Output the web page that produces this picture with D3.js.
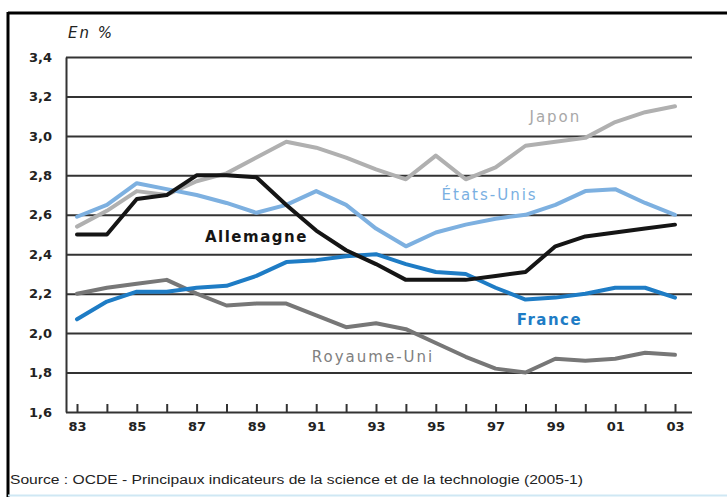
<!DOCTYPE html>
<html>
<head>
<meta charset="utf-8">
<script src="https://cdn.jsdelivr.net/npm/d3@7"></script>
<style>
  body { margin: 0; background: #fff; }
  svg { display: block; }
  .tick text { font-family: "DejaVu Sans", sans-serif; font-weight: bold; font-size: 13px; fill: #222; }
</style>
</head>
<body>
<div id="chart"></div>
<script>
var years = [1983, 1984, 1985, 1986, 1987, 1988, 1989, 1990, 1991, 1992, 1993,
             1994, 1995, 1996, 1997, 1998, 1999, 2000, 2001, 2002, 2003];
var yearLabels = ['83', '', '85', '', '87', '', '89', '', '91', '', '93',
                  '', '95', '', '97', '', '99', '', '01', '', '03'];
var yTicks = [1.6, 1.8, 2.0, 2.2, 2.4, 2.6, 2.8, 3.0, 3.2, 3.4];

var japon      = [2.54, 2.62, 2.72, 2.70, 2.77, 2.81, 2.89, 2.97, 2.94, 2.89, 2.83,
                  2.78, 2.90, 2.78, 2.84, 2.95, 2.97, 2.99, 3.07, 3.12, 3.15];
var etatsUnis  = [2.59, 2.65, 2.76, 2.73, 2.70, 2.66, 2.61, 2.65, 2.72, 2.65, 2.53,
                  2.44, 2.51, 2.55, 2.58, 2.60, 2.65, 2.72, 2.73, 2.66, 2.60];
var royaumeUni = [2.20, 2.23, 2.25, 2.27, 2.20, 2.14, 2.15, 2.15, 2.09, 2.03, 2.05,
                  2.02, 1.95, 1.88, 1.82, 1.80, 1.87, 1.86, 1.87, 1.90, 1.89];
var france     = [2.07, 2.16, 2.21, 2.21, 2.23, 2.24, 2.29, 2.36, 2.37, 2.39, 2.40,
                  2.35, 2.31, 2.30, 2.23, 2.17, 2.18, 2.20, 2.23, 2.23, 2.18];
var allemagne  = [2.50, 2.50, 2.68, 2.70, 2.80, 2.80, 2.79, 2.65, 2.52, 2.42, 2.35,
                  2.27, 2.27, 2.27, 2.29, 2.31, 2.44, 2.49, 2.51, 2.53, 2.55];

var series = [
  {name: 'Japon',       values: japon,      color: '#b0b0b0', lx: 1999.0, ly: 3.10, bold: false},
  {name: 'États-Unis',  values: etatsUnis,  color: '#7db0e0', lx: 1996.8, ly: 2.70, bold: false},
  {name: 'Royaume-Uni', values: royaumeUni, color: '#777777', lx: 1992.9, ly: 1.88, bold: false},
  {name: 'France',      values: france,     color: '#1e7cc5', lx: 1998.8, ly: 2.07, bold: true},
  {name: 'Allemagne',   values: allemagne,  color: '#151515', lx: 1989.0, ly: 2.49, bold: true}
];
var labelColors = {'Japon': '#a8a8a8', 'États-Unis': '#7ab0e2', 'Royaume-Uni': '#808080',
                   'France': '#1e7cc5', 'Allemagne': '#151515'};

var width = 727, height = 497;
var gridLeft = 66, gridRight = 692;

var svg = d3.select('#chart').append('svg')
    .attr('width', width)
    .attr('height', height);

// frame
svg.append('line').attr('x1', 8).attr('x2', width).attr('y1', 13).attr('y2', 13)
    .attr('stroke', '#000').attr('stroke-width', 3);
svg.append('line').attr('x1', 8).attr('x2', 8).attr('y1', 12).attr('y2', height)
    .attr('stroke', '#000').attr('stroke-width', 3);
svg.append('line').attr('x1', 8).attr('x2', width).attr('y1', 495.5).attr('y2', 495.5)
    .attr('stroke', '#cfe8f4').attr('stroke-width', 2);

var x = d3.scaleLinear().domain([1983, 2003]).range([77, 675]);
var y = d3.scaleLinear().domain([1.6, 3.4]).range([412, 57]);

// y axis with gridlines
var yAxis = d3.axisLeft(y)
    .tickValues(yTicks)
    .tickSizeInner(-(gridRight - gridLeft))
    .tickSizeOuter(0)
    .tickPadding(14)
    .tickFormat(d => d3.format('.1f')(d).replace('.', ','));

var gy = svg.append('g')
    .attr('transform', `translate(${gridLeft},0)`)
    .call(yAxis);
gy.selectAll('.tick line').attr('stroke', '#333').attr('stroke-width', 2);
gy.select('.domain').attr('stroke', '#333').attr('stroke-width', 2);

// x axis, ticks pointing up
var xAxis = d3.axisBottom(x)
    .tickValues(years)
    .tickSizeInner(-8)
    .tickSizeOuter(0)
    .tickPadding(10)
    .tickFormat((d, i) => yearLabels[i]);

var gx = svg.append('g')
    .attr('transform', `translate(0,${y(1.6)})`)
    .call(xAxis);
gx.select('.domain').remove();
gx.selectAll('.tick line').attr('stroke', '#333').attr('stroke-width', 2);

// lines
var line = d3.line()
    .x((d, i) => x(years[i]))
    .y(d => y(d))
    .curve(d3.curveLinear);

svg.append('g').selectAll('path')
    .data(series)
    .join('path')
    .attr('d', d => line(d.values))
    .attr('fill', 'none')
    .attr('stroke', d => d.color)
    .attr('stroke-width', 4)
    .attr('stroke-linejoin', 'round')
    .attr('stroke-linecap', 'round');

// series labels
svg.append('g').selectAll('text')
    .data(series)
    .join('text')
    .attr('x', d => x(d.lx))
    .attr('y', d => y(d.ly))
    .attr('dy', '0.36em')
    .attr('text-anchor', 'middle')
    .attr('font-family', '"DejaVu Sans", sans-serif')
    .attr('font-size', 15)
    .attr('font-weight', d => d.bold ? 'bold' : 'normal')
    .attr('letter-spacing', d => d.bold ? 1.5 : 2)
    .attr('fill', d => labelColors[d.name])
    .text(d => d.name);

// unit
svg.append('text')
    .attr('x', 68).attr('y', 38)
    .attr('font-family', '"DejaVu Sans", sans-serif')
    .attr('font-style', 'italic')
    .attr('font-size', 15)
    .attr('letter-spacing', 2)
    .attr('fill', '#222')
    .text('En %');

// source
svg.append('text')
    .attr('x', 10).attr('y', 484)
    .attr('font-family', '"Liberation Sans", Arial, sans-serif')
    .attr('font-size', 12)
    .attr('textLength', 573)
    .attr('lengthAdjust', 'spacingAndGlyphs')
    .attr('fill', '#222')
    .text('Source : OCDE -  Principaux indicateurs de la science et de la technologie (2005-1)');
</script>
</body>
</html>
